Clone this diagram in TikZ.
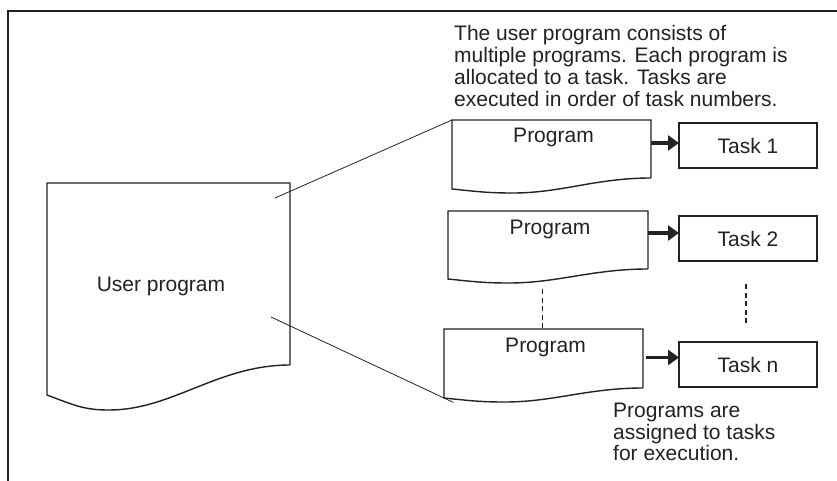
\documentclass[tikz,border=0pt]{standalone}
\usepackage{fontspec}
\setmainfont{Liberation Sans}
\usetikzlibrary{calc,arrows.meta}
\definecolor{ink}{HTML}{222222}
\tikzset{
  boxline/.style={draw=ink, line width=1.4pt},
  docnode/.style={inner sep=0pt, outer sep=0pt, anchor=north west},
  taskbox/.style={draw=ink, line width=1.1pt, inner sep=0pt, outer sep=0pt, minimum width=138pt, minimum height=45pt, anchor=north west, font=\fontsize{21pt}{22pt}\selectfont, text=ink},
  lbl/.style={font=\fontsize{21pt}{22pt}\selectfont, text=ink, inner sep=0pt},
  thinline/.style={draw=ink, line width=0.8pt},
  arr/.style={draw=ink, line width=3.6pt, -{Triangle[length=11pt,width=15pt]}},
  dashline/.style={draw=ink, line width=1.8pt, dash pattern=on 5pt off 3.5pt},
}
% #1 node, #2 width, #3 left drop, #4 min x offset, #5 min drop
\newcommand\docshape[5]{%
  \draw[boxline] (#1.south east) -- (#1.north east) -- (#1.north west)
    -- ($(#1.south west)+(0,#3)$) coordinate (#1L)
    .. controls ($(#1.south west)+({0.45*#4},{#3+0.7*(#5-#3)})$) and ($(#1.south west)+({0.6*#4},#5)$)
    .. ($(#1.south west)+(#4,#5)$)
    .. controls ($(#1.south west)+({#4+0.35*(#2-#4)},#5)$) and ($(#1.south east)+({-0.4*(#2-#4)},0)$)
    .. (#1.south east);
}
\begin{document}
\begin{tikzpicture}[x=1pt,y=-1pt]
\useasboundingbox (0,0) rectangle (837,481);
\draw[boxline] (837,11) -- (8,11) -- (8,481);

% documents
\node[docnode, minimum width=243pt, minimum height=182pt] (u) at (47,183) {};
\node[docnode, minimum width=199pt, minimum height=58pt] (p1) at (452,120) {};
\node[docnode, minimum width=200pt, minimum height=58pt] (p2) at (448,211) {};
\node[docnode, minimum width=199pt, minimum height=59pt] (pn) at (444,329) {};
\docshape{u}{243}{30}{62}{45}
\docshape{p1}{199}{11}{61}{15}
\docshape{p2}{200}{10}{61}{14}
\docshape{pn}{199}{10}{61}{14}

\node[lbl, anchor=base] (ut) at (161,291) {User program};
\node[lbl, anchor=base] (p1t) at ($(p1.north)+(2,23)$) {Program};
\node[lbl, anchor=base] (p2t) at ($(p2.north)+(2,23)$) {Program};
\node[lbl, anchor=base] (pnt) at ($(pn.north)+(2,23)$) {Program};

% tasks
\node[taskbox] (t1) at (679,123) {Task 1};
\node[taskbox] (t2) at (679,216) {Task 2};
\node[taskbox] (tn) at (679,342) {Task n};

% arrows
\draw[arr] ($(p1.east)+(0,-6)$) coordinate (a1) -- (a1 -| t1.west);
\draw[arr] ($(p2.east)+(0,-7)$) coordinate (a2) -- (a2 -| t2.west);
\draw[arr] ($(pn.east)+(3,-1)$) coordinate (an) -- (an -| tn.west);

% dashed continuation marks
\draw[dashline] ($(pn.north)+(-1,-1)$) coordinate (d1) -- ++(0,-41);
\draw[dashline] ($(tn.north)+(-2,-19)$) coordinate (d2) -- ++(0,-40);

% connectors from user program
\coordinate (cu1) at (275,198);
\coordinate (cu2) at (271,317);
\draw[thinline] (cu1) -- (p1.north west);
\draw[thinline] (cu2) -- ($(cu2)!1.055!(pnL)$);

% notes
\node[lbl, anchor=north west, align=left] (note1) at (454,25)
  {The user program consists of\\multiple programs. Each program is\\allocated to a task. Tasks are\\executed in order of task numbers.};
\node[lbl, anchor=north west, align=left, font=\fontsize{21pt}{21.5pt}\selectfont] (note2) at (613,403)
  {Programs are\\assigned to tasks\\for execution.};
\end{tikzpicture}
\end{document}
